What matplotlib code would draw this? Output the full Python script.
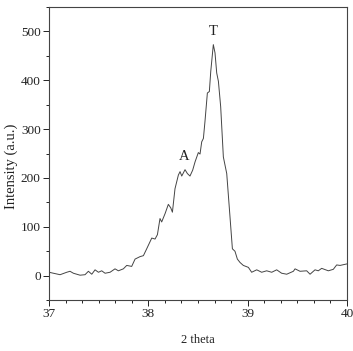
import matplotlib
matplotlib.use("Agg")
import matplotlib.pyplot as plt
from matplotlib.ticker import MultipleLocator

two_theta = [37.000, 37.044, 37.111, 37.178, 37.211, 37.245, 37.312, 37.362, 37.396, 37.430,
             37.463, 37.497, 37.530, 37.564, 37.614, 37.664, 37.698, 37.748, 37.782, 37.832,
             37.866, 37.916, 37.950, 37.983, 38.034, 38.067, 38.091, 38.117, 38.134, 38.168,
             38.201, 38.225, 38.242, 38.268, 38.302, 38.319, 38.336, 38.369, 38.393, 38.419,
             38.446, 38.470, 38.503, 38.520, 38.537, 38.554, 38.570, 38.594, 38.614, 38.628,
             38.654, 38.671, 38.688, 38.705, 38.728, 38.755, 38.789, 38.822, 38.846, 38.872,
             38.896, 38.923, 38.956, 39.007, 39.040, 39.091, 39.141, 39.191, 39.242, 39.292,
             39.342, 39.393, 39.460, 39.477, 39.527, 39.594, 39.628, 39.678, 39.711, 39.745,
             39.812, 39.862, 39.896, 39.930, 39.997]
intensity = [7, 5, 2, 7, 9, 5, 1, 2, 9, 3,
             12, 7, 10, 5, 7, 14, 10, 14, 21, 19,
             34, 39, 41, 55, 77, 75, 84, 117, 110, 127,
             146, 139, 130, 178, 206, 213, 204, 217, 209, 204,
             216, 233, 252, 249, 274, 281, 316, 374, 377, 418,
             473, 456, 415, 398, 346, 243, 209, 120, 55, 50,
             34, 27, 21, 17, 7, 12, 7, 10, 7, 12,
             5, 3, 9, 14, 9, 10, 3, 12, 10, 15,
             10, 13, 22, 21, 24]

peak_labels = ["T", "A"]
peak_x = [38.65, 38.36]
peak_y = [499, 245]

plt.rcParams['font.family'] = ['Liberation Serif', 'DejaVu Serif']

fig = plt.figure(figsize=(3.53, 3.51), dpi=100)
ax = fig.add_axes([0.139, 0.145, 0.844, 0.835])
ax.plot(two_theta, intensity, color='#444444', lw=0.7)

for lab, px, py in zip(peak_labels, peak_x, peak_y):
    ax.text(px, py, lab, ha='center', va='center', fontsize=10.5, color='#222222')

ax.set_xlim(37, 40)
ax.set_ylim(-50, 550)
ax.xaxis.set_major_locator(MultipleLocator(1))
ax.xaxis.set_minor_locator(MultipleLocator(1/6))
ax.yaxis.set_major_locator(MultipleLocator(100))
ax.yaxis.set_minor_locator(MultipleLocator(50))
ax.tick_params(axis='both', which='major', direction='out', length=4, width=0.7,
               labelsize=9.5, pad=2, colors='#222222')
ax.tick_params(axis='both', which='minor', direction='out', length=2.5, width=0.6)
for s in ax.spines.values():
    s.set_linewidth(0.8)
    s.set_color('#444444')
ax.set_xlabel('2 theta', fontsize=9, labelpad=10, color='#222222')
ax.set_ylabel('Intensity (a.u.)', fontsize=10.5, color='#222222')
ax.yaxis.set_label_coords(-0.104, 0.457)

fig.savefig('out.png', dpi=100)
